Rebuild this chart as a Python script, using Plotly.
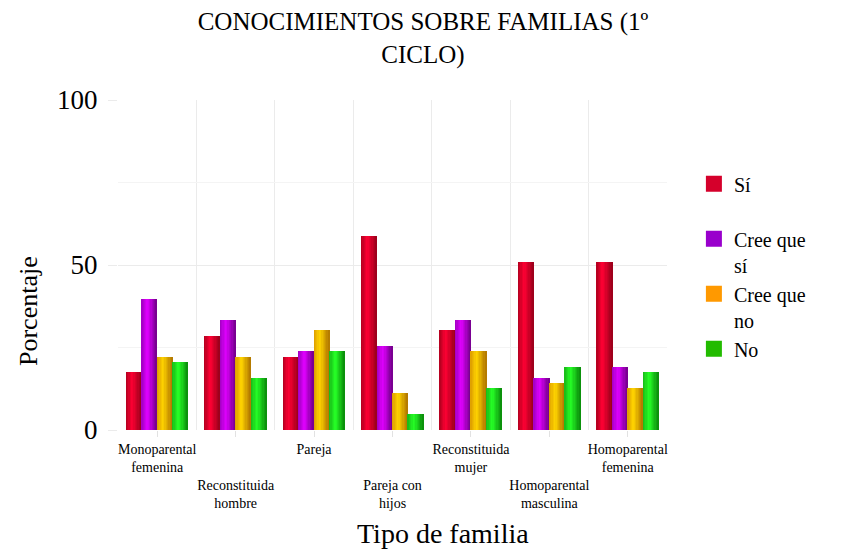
import plotly.graph_objects as go

# ---------------- data ----------------
categories = ["Monoparental femenina", "Reconstituida hombre", "Pareja", "Pareja con hijos",
              "Reconstituida mujer", "Homoparental masculina", "Homoparental femenina"]
tick_labels = ["Monoparental<br>femenina", "Reconstituida<br>hombre", "Pareja", "Pareja con<br>hijos",
               "Reconstituida<br>mujer", "Homoparental<br>masculina", "Homoparental<br>femenina"]
series_names = ["Sí", "Cree que sí", "Cree que no", "No"]
legend_labels = ["Sí<br>\u00a0", "Cree que<br>sí", "Cree que<br>no", "No"]
si = [17.5, 28.6, 22.2, 58.7, 30.2, 50.8, 50.8]
cree_si = [39.7, 33.3, 23.8, 25.4, 33.3, 15.9, 19.0]
cree_no = [22.2, 22.2, 30.2, 11.1, 23.8, 14.3, 12.7]
no = [20.6, 15.9, 23.8, 4.8, 12.7, 19.0, 17.5]
values = [si, cree_si, cree_no, no]
y_ticks = [0, 50, 100]

# ---------------- styles ----------------
legend_colors = ["#d5002b", "#9900cc", "#ff9900", "#22bb00"]
# (left, bright, right) shading for cylinder-like bars
shades = [("#b0001e", "#ff0033", "#98001a"),
          ("#a000c0", "#e000ff", "#72008a"),
          ("#dc9c00", "#ffd400", "#b07400"),
          ("#18b818", "#26ff26", "#0a8a0a")]
FONT = "Liberation Serif"


def hex2rgb(h):
    h = h.lstrip("#")
    return [int(h[i:i + 2], 16) for i in (0, 2, 4)]


def shade(stops, t, peak=0.4):
    a, b, c = (hex2rgb(s) for s in stops)
    if t <= peak:
        f = t / peak
        p, q = a, b
    else:
        f = (t - peak) / (1 - peak)
        p, q = b, c
    return "rgb(%d,%d,%d)" % tuple(round(p[i] + (q[i] - p[i]) * f) for i in range(3))


n = len(categories)
x = list(range(n))
group_width = 0.79
bw = group_width / len(values)
N = 12

fig = go.Figure()
for k, vals in enumerate(values):
    left = -group_width / 2 + k * bw
    sw = bw / N
    for j in range(N):
        t = (j + 0.5) / N
        fig.add_trace(go.Bar(
            x=x, y=vals, offset=left + j * sw,
            width=sw * (1.25 if j < N - 1 else 1.0),
            marker=dict(color=shade(shades[k], t), line=dict(width=0)),
            showlegend=False, hoverinfo="skip", name=series_names[k]))
    fig.add_trace(go.Scatter(
        x=[None], y=[None], mode="markers", name=legend_labels[k],
        marker=dict(symbol="square", size=16, color=legend_colors[k])))

ticktext = [("\u00a0<br>\u00a0<br>" + lab) if i % 2 else lab for i, lab in enumerate(tick_labels)]

fig.update_layout(
    width=846, height=549,
    margin=dict(l=118, r=179, t=100, b=119),
    paper_bgcolor="white", plot_bgcolor="white",
    font=dict(family=FONT, color="black"),
    barmode="overlay", bargap=0,
    title=dict(text="CONOCIMIENTOS SOBRE FAMILIAS (1º<br>CICLO)",
               x=0.5, xref="container", y=0.945, yref="container",
               xanchor="center", yanchor="top",
               font=dict(family=FONT, size=25, color="black")),
    legend=dict(x=1.049, xanchor="left", y=0.805, yanchor="top",
                font=dict(family=FONT, size=20, color="black"),
                valign="top", bgcolor="rgba(0,0,0,0)"),
    xaxis=dict(range=[-0.5, n - 0.5], tickmode="array", tickvals=x, ticktext=ticktext,
               tickangle=0,
               showgrid=False, zeroline=False, showline=False,
               ticks="outside", ticklen=6, tickcolor="#e2e2e2",
               tickfont=dict(family=FONT, size=14, color="black"),
               minor=dict(tickmode="array", tickvals=[i - 0.5 for i in range(n + 1)],
                          showgrid=True, gridcolor="#ebebeb", gridwidth=1, ticks="")),
    yaxis=dict(range=[0, 100], tickmode="array", tickvals=y_ticks,
               showgrid=True, gridcolor="#ebebeb", gridwidth=1,
               zeroline=False, showline=False,
               ticks="outside", ticklen=9, tickcolor="#ebebeb",
               ticklabelstandoff=5,
               tickfont=dict(family=FONT, size=27, color="black"),
               minor=dict(dtick=25, showgrid=True, gridcolor="#f4f4f4", ticks="")),
    annotations=[
        dict(text="Tipo de familia", xref="paper", yref="paper", x=(443 - 118) / 549,
             y=(430 - 533) / 330, xanchor="center", yanchor="middle", showarrow=False,
             font=dict(family=FONT, size=28, color="black")),
        dict(text="Porcentaje", xref="paper", yref="paper", x=(28 - 118) / 549,
             y=(430 - 311) / 330, xanchor="center", yanchor="middle", showarrow=False,
             textangle=-90, font=dict(family=FONT, size=26, color="black")),
    ],
)

fig.write_html("out.html", config={"displayModeBar": False},
               post_script="document.body.style.margin='0';document.body.style.overflow='hidden';")
